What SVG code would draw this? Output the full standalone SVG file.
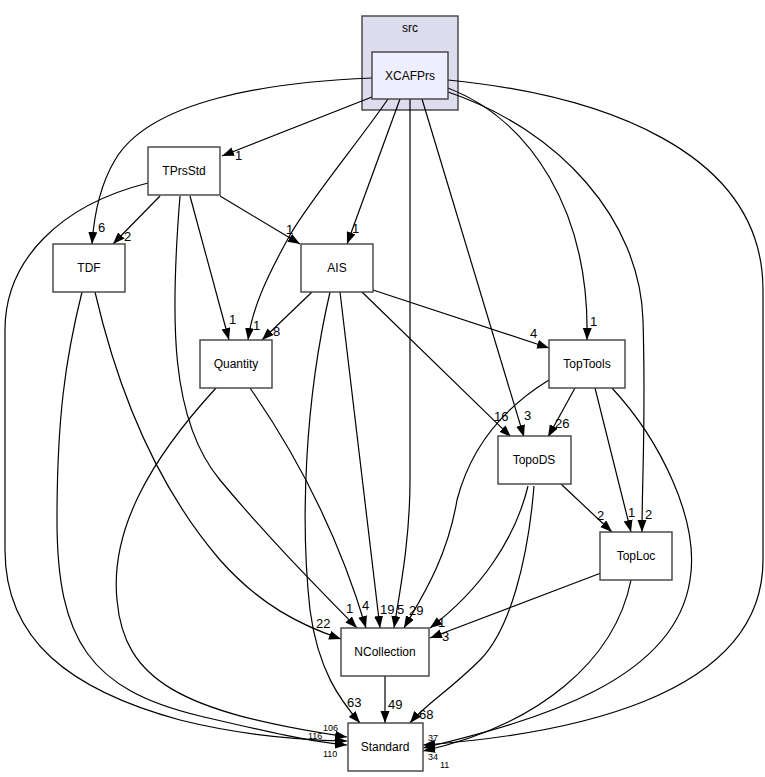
<svg xmlns="http://www.w3.org/2000/svg" width="765" height="777" viewBox="0 0 765 777">
<style>
.bg{fill:#ffffff}
.node rect{fill:#ffffff;stroke:#404040;stroke-width:1.4}
.node text,.cl text{font-family:"Liberation Sans",Arial,sans-serif;font-size:12px;fill:#000;text-anchor:middle}
.cl rect.c{fill:#ddddee;stroke:#404040;stroke-width:1.4}
#n_XCAFPrs rect{fill:#eeeeff}
.edges path{fill:none;stroke:#000;stroke-width:1.2;marker-end:url(#ah)}
.edges text{font-family:"Liberation Sans",Arial,sans-serif;font-size:13px;fill:#000}
.edges text.s{font-size:9px}
</style>
<defs>
<marker id="ah" markerUnits="userSpaceOnUse" markerWidth="13" markerHeight="10" refX="12" refY="4.5" orient="auto">
<path d="M0,0 L12,4.5 L0,9 z" fill="#000"/>
</marker>
</defs>
<rect class="bg" x="0" y="0" width="765" height="777"/>
<g id="cluster_src" class="cl">
<rect class="c" x="362" y="16" width="96" height="94"/>
<text x="410" y="32">src</text>
</g>
<g class="edges" id="edges">
<path d="M372,97 L222,156"/><text x="235" y="160">1</text>
<path d="M372,78 C270,82 150,100 115,160 C100,185 94,215 92,244"/><text x="98" y="232">6</text>
<path d="M388,99 C360,140 310,200 290,235 C265,280 252,310 248,340"/><text x="253" y="330">1</text>
<path d="M400,99 L347,244"/><text x="352" y="233">1</text>
<path d="M410,99 L410,480 C410,540 400,590 394,628"/><text x="397" y="614">5</text>
<path d="M422,99 L524,437"/><text x="524" y="420">3</text>
<path d="M448,88 C530,120 590,210 587,340"/><text x="590" y="326">1</text>
<path d="M448,92 C560,130 640,220 643,320 C646,420 642,480 642,532"/><text x="645" y="519">2</text>
<path d="M448,80 C600,95 763,150 763,290 L763,560 C763,700 560,735 423,745"/>
<path d="M160,196 L113,244"/><text x="124" y="241">2</text>
<path d="M220,196 L300,244"/><text x="286" y="234">1</text>
<path d="M190,196 L229,340"/><text x="229" y="324">1</text>
<path d="M180,196 C170,320 170,420 220,480 C270,540 320,590 357,628"/><text x="346" y="613">1</text>
<path d="M148,183 C60,205 5,260 5,330 L5,550 C5,640 70,690 180,720 C240,735 300,740 347,741"/>
<path d="M82,292 C65,360 57,420 57,520 C57,640 90,690 200,716 C260,730 310,742 347,745"/>
<path d="M95,292 C120,400 160,490 220,560 C260,605 300,625 341,639"/><text x="316" y="628">22</text>
<path d="M312,292 L262,340"/><text x="273" y="336">8</text>
<path d="M373,290 L549,348"/><text x="530" y="338">4</text>
<path d="M362,292 L511,437"/><text x="494" y="421">16</text>
<path d="M340,292 L380,628"/><text x="380" y="614">19</text>
<path d="M330,292 C305,400 300,520 310,610 C318,670 340,700 360,723"/><text x="347" y="707">63</text>
<path d="M216,388 C150,460 110,530 117,600 C124,680 180,712 347,737"/>
<path d="M250,388 C300,460 340,540 366,628"/><text x="362" y="610">4</text>
<path d="M575,388 L548,437"/><text x="555" y="428">26</text>
<path d="M595,388 L631,532"/><text x="628" y="517">1</text>
<path d="M549,380 C500,410 470,450 457,500 C447,560 420,600 404,628"/><text x="409" y="615">29</text>
<path d="M612,388 C660,440 700,520 690,580 C675,680 540,720 423,748"/>
<path d="M561,484 L612,532"/><text x="597" y="520">2</text>
<path d="M528,486 C515,540 480,590 430,628"/><text x="438" y="627">1</text>
<path d="M534,486 C528,560 510,630 480,660 C450,690 425,705 410,723"/><text x="419" y="719">68</text>
<path d="M601,573 L430,638"/><text x="442" y="641">3</text>
<path d="M631,580 C615,660 540,725 423,751"/>
<path d="M385,676 L385,723"/><text x="388" y="709">49</text>
<text class="s" x="323" y="731">106</text><text class="s" x="308" y="739">116</text><text class="s" x="323" y="757">110</text>
<text class="s" x="428" y="741">37</text><text class="s" x="428" y="760">34</text><text class="s" x="440" y="768">11</text>
</g>
<g id="n_XCAFPrs" class="node"><rect x="372" y="52" width="76" height="47"/><text x="410" y="80">XCAFPrs</text></g>
<g id="n_TPrsStd" class="node"><rect x="148" y="147" width="72" height="48"/><text x="184" y="175">TPrsStd</text></g>
<g id="n_TDF" class="node"><rect x="53" y="244" width="72" height="48"/><text x="89" y="272">TDF</text></g>
<g id="n_AIS" class="node"><rect x="301" y="244" width="72" height="48"/><text x="337" y="272">AIS</text></g>
<g id="n_Quantity" class="node"><rect x="200" y="340" width="72" height="48"/><text x="236" y="368">Quantity</text></g>
<g id="n_TopTools" class="node"><rect x="549" y="340" width="76" height="48"/><text x="587" y="368">TopTools</text></g>
<g id="n_TopoDS" class="node"><rect x="498" y="436" width="73" height="48"/><text x="534" y="464">TopoDS</text></g>
<g id="n_TopLoc" class="node"><rect x="600" y="532" width="72" height="48"/><text x="636" y="560">TopLoc</text></g>
<g id="n_NCollection" class="node"><rect x="341" y="628" width="88" height="48"/><text x="385" y="656">NCollection</text></g>
<g id="n_Standard" class="node"><rect x="348" y="723" width="75" height="48"/><text x="385" y="751">Standard</text></g>
</svg>
